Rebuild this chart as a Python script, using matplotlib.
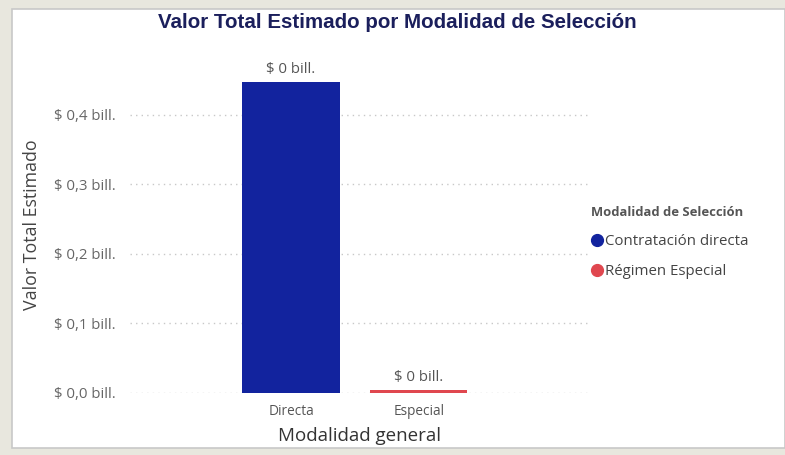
import matplotlib
matplotlib.use("Agg")
import matplotlib.pyplot as plt
from matplotlib.lines import Line2D
from matplotlib.patches import Rectangle

# Data
categories = ["Directa", "Especial"]
series = ["Contratación directa", "Régimen Especial"]
values = [0.447, 0.004]  # billones
bar_labels = ["$ 0 bill.", "$ 0 bill."]
y_ticks = [0.0, 0.1, 0.2, 0.3, 0.4]
y_tick_labels = ["$ 0,0 bill.", "$ 0,1 bill.", "$ 0,2 bill.", "$ 0,3 bill.", "$ 0,4 bill."]
colors = ["#12239E", "#E0474F"]

plt.rcParams['font.family'] = ['Open Sans', 'DejaVu Sans']

fig = plt.figure(figsize=(7.85, 4.55), dpi=100)
fig.patch.set_facecolor("#E8E7DE")
# white panel
panel = Rectangle((12/785, 7/455), 1 - 12/785, 1 - 16/455, transform=fig.transFigure,
                  facecolor="white", edgecolor="#C8C8C8", linewidth=1.2, zorder=-5)
fig.patches.append(panel)

ax = fig.add_axes([130/785, 62/455, 460/785, 348/455])
ax.set_facecolor("none")
ax.set_zorder(2)

x = list(range(len(categories)))
for i, (cat, val, col, name) in enumerate(zip(categories, values, colors, series)):
    ax.bar(i, val, width=0.76, color=col, label=name, zorder=2)
    ax.text(i, val + 0.007, bar_labels[i], ha="center", va="bottom",
            fontsize=10.8, color="#555555")

ax.set_xlim(-1.26, 2.34)
ax.set_ylim(0, 0.5)
ax.set_yticks(y_ticks)
ax.set_yticklabels(y_tick_labels, fontsize=10.8, color="#666666")
ax.set_xticks(x)
ax.set_xticklabels(categories, fontsize=9.8, color="#555555")
ax.tick_params(axis="y", length=0, pad=10)
ax.tick_params(axis="x", length=0, pad=8)
for s in ax.spines.values():
    s.set_visible(False)
ax.yaxis.grid(True, linestyle=(0, (1, 3)), color="#C8C8C8", linewidth=1, zorder=0)
ax.set_axisbelow(True)

ax.set_xlabel("Modalidad general", fontsize=13.5, color="#333333", labelpad=6)
fig.text(32/785, 1 - 225/455, "Valor Total Estimado", rotation=90, ha="center", va="center",
         fontsize=12.8, color="#444444")

fig.text(397/785, 1 - 22/455, "Valor Total Estimado por Modalidad de Selección",
         ha="center", va="center", fontsize=14.8, fontweight="bold", color="#1B1F5C",
         family=["Liberation Sans", "DejaVu Sans"])

handles = [Line2D([0], [0], marker="o", linestyle="none", markersize=8.5,
                  markerfacecolor=c, markeredgecolor=c) for c in colors]
leg = fig.legend(handles, series, title="Modalidad de Selección", loc="upper left",
                 bbox_to_anchor=(585/785, 1 - 200/455), frameon=False,
                 fontsize=10.8, title_fontsize=9.4, handletextpad=0.15, handlelength=0.8,
                 labelspacing=1.0, borderaxespad=0, alignment="left")
leg.get_title().set_fontweight("bold")
leg.get_title().set_color("#555555")
for t in leg.get_texts():
    t.set_color("#444444")

fig.savefig("out.png", dpi=100, facecolor=fig.get_facecolor())
